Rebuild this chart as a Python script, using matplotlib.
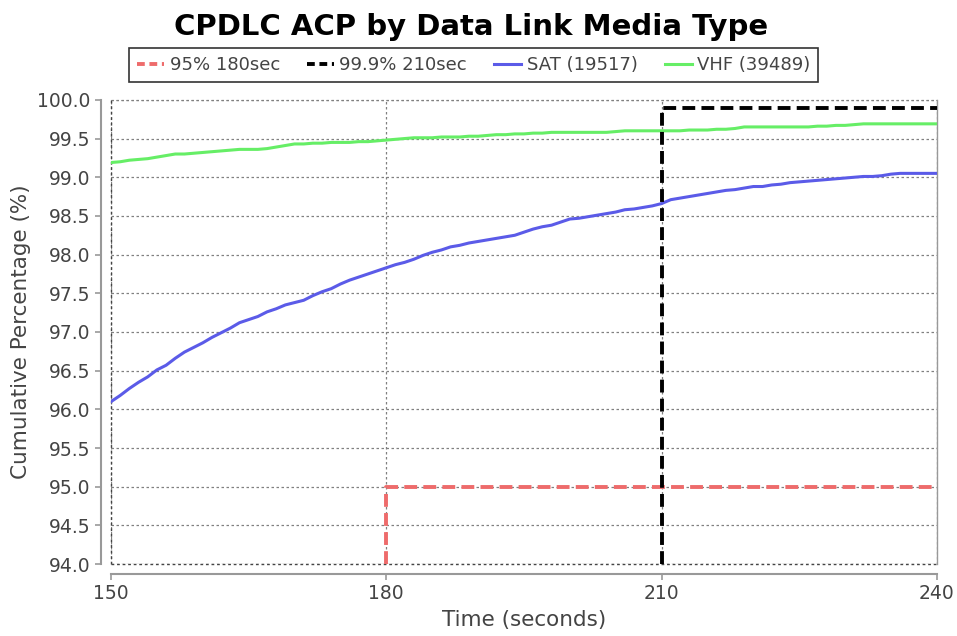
import matplotlib
matplotlib.use("Agg")
import matplotlib.pyplot as plt
from matplotlib.lines import Line2D

# ---- data ----
time_s = list(range(150, 241))
sat_pct = [96.10, 96.18, 96.27, 96.35, 96.42, 96.51, 96.57, 96.66, 96.74, 96.80,
           96.86, 96.93, 96.99, 97.05, 97.12, 97.16, 97.20, 97.26, 97.30, 97.35,
           97.38, 97.41, 97.47, 97.52, 97.56, 97.62, 97.67, 97.71, 97.75, 97.79,
           97.83, 97.87, 97.90, 97.94, 97.99, 98.03, 98.06, 98.10, 98.12, 98.15,
           98.17, 98.19, 98.21, 98.23, 98.25, 98.29, 98.33, 98.36, 98.38, 98.42,
           98.46, 98.47, 98.49, 98.51, 98.53, 98.55, 98.58, 98.59, 98.61, 98.63,
           98.66, 98.71, 98.73, 98.75, 98.77, 98.79, 98.81, 98.83, 98.84, 98.86,
           98.88, 98.88, 98.90, 98.91, 98.93, 98.94, 98.95, 98.96, 98.97, 98.98,
           98.99, 99.00, 99.01, 99.01, 99.02, 99.04, 99.05, 99.05, 99.05, 99.05,
           99.05]
vhf_pct = [99.19, 99.20, 99.22, 99.23, 99.24, 99.26, 99.28, 99.30, 99.30, 99.31,
           99.32, 99.33, 99.34, 99.35, 99.36, 99.36, 99.36, 99.37, 99.39, 99.41,
           99.43, 99.43, 99.44, 99.44, 99.45, 99.45, 99.45, 99.46, 99.46, 99.47,
           99.48, 99.49, 99.50, 99.51, 99.51, 99.51, 99.52, 99.52, 99.52, 99.53,
           99.53, 99.54, 99.55, 99.55, 99.56, 99.56, 99.57, 99.57, 99.58, 99.58,
           99.58, 99.58, 99.58, 99.58, 99.58, 99.59, 99.60, 99.60, 99.60, 99.60,
           99.60, 99.60, 99.60, 99.61, 99.61, 99.61, 99.62, 99.62, 99.63, 99.65,
           99.65, 99.65, 99.65, 99.65, 99.65, 99.65, 99.65, 99.66, 99.66, 99.67,
           99.67, 99.68, 99.69, 99.69, 99.69, 99.69, 99.69, 99.69, 99.69, 99.69,
           99.69]
req95_t = [180, 180, 240]
req95_v = [94.0, 95.0, 95.0]
req999_t = [210, 210, 240]
req999_v = [94.0, 99.9, 99.9]

labels = ["95% 180sec", "99.9% 210sec", "SAT (19517)", "VHF (39489)"]
x_ticks = [150, 180, 210, 240]
y_ticks = [94.0 + 0.5 * i for i in range(13)]

title = "CPDLC ACP by Data Link Media Type"
x_label = "Time (seconds)"
y_label = "Cumulative Percentage (%)"

# ---- styling ----
plt.rcParams['font.family'] = ['DejaVu Sans']
fig = plt.figure(figsize=(9.57, 6.36), dpi=100)
ax = fig.add_axes([0.116, 0.113, 0.863, 0.730])

c_red = "#ee6b6b"
c_blk = "#000000"
c_sat = "#5b5be8"
c_vhf = "#66ee66"
txt = "#444444"

ax.set_xlim(150, 240)
ax.set_ylim(94.0, 100.0)
ax.set_xticks(x_ticks)
ax.set_yticks(y_ticks)
ax.set_yticklabels([f"{v:.1f}" for v in y_ticks])

ax.grid(True, color="#808080", linestyle=(0, (2, 2)), linewidth=0.9)
ax.set_axisbelow(True)

for s in ["top", "right"]:
    ax.spines[s].set_color("#999999")
    ax.spines[s].set_linewidth(1.0)
for s in ["left", "bottom"]:
    ax.spines[s].set_position(("outward", 7))
    ax.spines[s].set_color("#999999")
    ax.spines[s].set_linewidth(1.5)
ax.spines["top"].set_visible(False)

ax.tick_params(axis="both", colors="#999999", labelcolor=txt, labelsize=13.5,
               length=4, width=1.2)
ax.set_xlabel(x_label, fontsize=15.5, color=txt, labelpad=5)
ax.set_ylabel(y_label, fontsize=15.5, color=txt, labelpad=5)

# plot box edges
ax.axhline(100.0, color="#808080", linestyle=(0, (2, 2)), linewidth=0.9, clip_on=False)
ax.axhline(94.0, color="#444444", linestyle=(0, (2, 2)), linewidth=1.0, clip_on=False)
ax.axvline(150, color="#444444", linestyle=(0, (2, 2)), linewidth=1.0, clip_on=False)

ax.plot(time_s, sat_pct, color=c_sat, linewidth=2.2, zorder=4)
ax.plot(time_s, vhf_pct, color=c_vhf, linewidth=2.2, zorder=4)
ax.plot(req95_t, req95_v, color=c_red, linewidth=2.8, linestyle=(0, (3.3, 1.6)), zorder=5)
ax.plot(req999_t, req999_v, color=c_blk, linewidth=2.8, linestyle=(0, (3.3, 1.6)), zorder=5)

handles = [
    Line2D([], [], color=c_red, linewidth=2.8, linestyle=(0, (2, 1.2))),
    Line2D([], [], color=c_blk, linewidth=2.8, linestyle=(0, (2, 1.2))),
    Line2D([], [], color=c_sat, linewidth=2.2),
    Line2D([], [], color=c_vhf, linewidth=2.2),
]
leg = fig.legend(handles, labels, loc="center", bbox_to_anchor=(0.495, 0.898),
                 ncol=4, fontsize=13, frameon=True, fancybox=False,
                 edgecolor="black", handlelength=1.5, handletextpad=0.3,
                 columnspacing=1.5, borderpad=0.45)
leg.get_frame().set_linewidth(1.2)
for t in leg.get_texts():
    t.set_color(txt)

fig.text(0.492, 0.958, title, ha="center", va="center", fontsize=21,
         fontweight="bold", color="black")

fig.savefig("out.png", dpi=100, facecolor="white")
